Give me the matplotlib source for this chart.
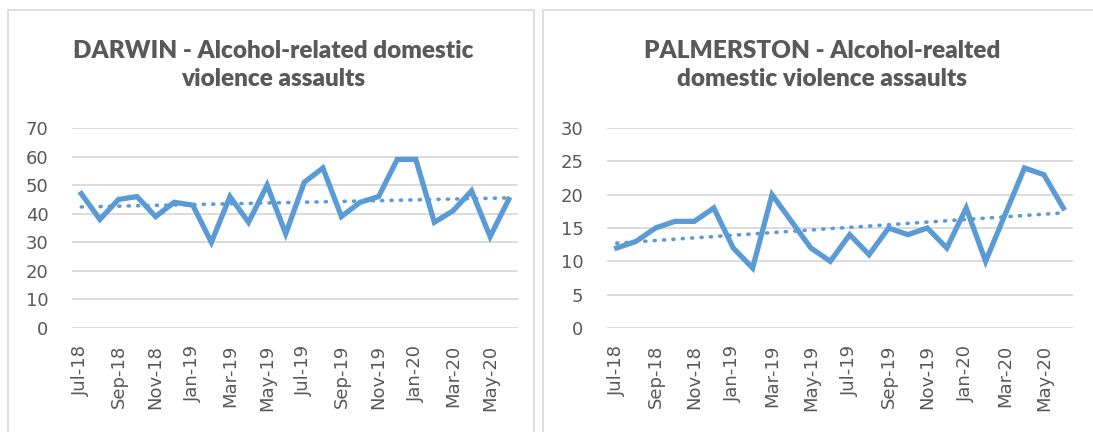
import matplotlib
matplotlib.use("Agg")
import matplotlib.pyplot as plt
import numpy as np
from matplotlib.patches import Rectangle

# data
months = ["Jul-18", "Aug-18", "Sep-18", "Oct-18", "Nov-18", "Dec-18",
          "Jan-19", "Feb-19", "Mar-19", "Apr-19", "May-19", "Jun-19",
          "Jul-19", "Aug-19", "Sep-19", "Oct-19", "Nov-19", "Dec-19",
          "Jan-20", "Feb-20", "Mar-20", "Apr-20", "May-20", "Jun-20"]
darwin = [47, 38, 45, 46, 39, 44, 43, 30, 46, 37, 50, 33,
          51, 56, 39, 44, 46, 59, 59, 37, 41, 48, 32, 45]
palmerston = [12, 13, 15, 16, 16, 18, 12, 9, 20, 16, 12, 10,
              14, 11, 15, 14, 15, 12, 18, 10, 17, 24, 23, 18]

titles = ["DARWIN - Alcohol-related domestic\nviolence assaults",
          "PALMERSTON - Alcohol-realted\ndomestic violence assaults"]
yticks = [np.arange(0, 71, 10), np.arange(0, 31, 5)]

blue = "#5B9BD5"
grey = "#595959"

W, H = 1093, 432
fig = plt.figure(figsize=(W / 100, H / 100), dpi=100)

# panel frames (like the excel chart borders)
for x0, x1 in [(8, 534), (543, 1101)]:
    fig.patches.append(Rectangle((x0 / W, -0.1), (x1 - x0) / W, (H - 10) / H + 0.1,
                                 transform=fig.transFigure, fill=False,
                                 edgecolor="#D9D9D9", linewidth=1.2))

axes_pos = [(72, 518), (607, 1073)]
title_x = [273, 822]
series = [darwin, palmerston]

for i in range(2):
    l, r = axes_pos[i]
    ax = fig.add_axes([l / W, (H - 328) / H, (r - l) / W, 200 / H])
    y = np.array(series[i])
    x = np.arange(len(y))
    ax.plot(x, y, color=blue, linewidth=3.8, solid_joinstyle="miter", zorder=3)
    k, b = np.polyfit(x, y, 1)
    ax.plot(x, k * x + b, color=blue, linewidth=2.6, linestyle=(0, (0.3, 2.3)),
            dash_capstyle="round", zorder=2)
    ax.set_xlim(-0.5, len(y) - 0.5)
    ax.set_ylim(yticks[i][0], yticks[i][-1])
    ax.set_yticks(yticks[i])
    ax.set_xticks(x[::2])
    ax.set_xticklabels(months[::2], rotation=90)
    ax.tick_params(axis="both", length=0, labelsize=13, labelcolor=grey)
    ax.tick_params(axis="y", pad=17)
    ax.tick_params(axis="x", pad=12)
    ax.grid(axis="y", color="#D9D9D9", linewidth=1.3)
    ax.set_axisbelow(True)
    for s in ax.spines.values():
        s.set_visible(False)
    fig.text(title_x[i] / W, 1 - 65 / H, titles[i], ha="center", va="center",
             fontsize=17.5, fontweight="heavy", color=grey, linespacing=1.28,
             family=["Lato", "DejaVu Sans"])

plt.savefig("out.png", dpi=100)
